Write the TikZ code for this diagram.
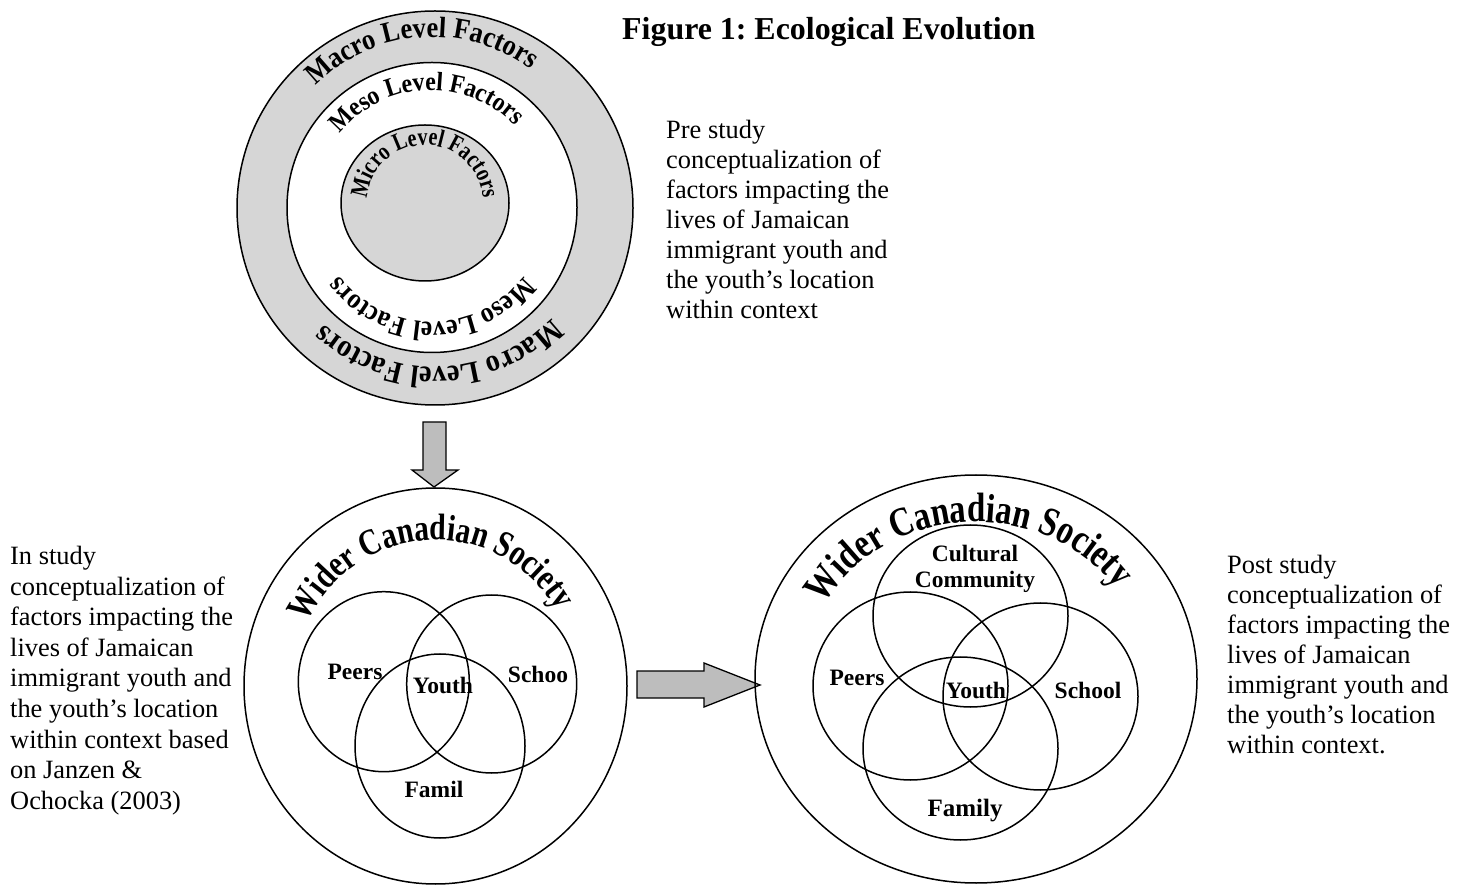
\documentclass[tikz,border=0pt]{standalone}
\usepackage{fontspec}
\setmainfont{Liberation Serif}
\newfontfamily\wamacro{Liberation Serif}[FakeStretch=0.9]
\newfontfamily\wamicro{Liberation Serif}[FakeStretch=0.8]
\newfontfamily\wawider{Liberation Serif}[FakeStretch=0.8]
\usetikzlibrary{decorations.text}
\newcommand\myfs[1]{\fontsize{#1}{#1}\selectfont}
\frenchspacing
\begin{document}
\begin{tikzpicture}[x=1pt,y=1pt,
  ln/.style={line width=1.5pt, draw=black},
  ring/.style={ln, fill=black!16},
  lab/.style={font=\bfseries\fontsize{23.5}{26}\selectfont, inner sep=0pt, anchor=base},
  body/.style={font=\fontsize{26.4}{30}\selectfont, align=left, anchor=north west, inner sep=0pt},
  blockarrow/.style={line width=1.3pt, draw=black, fill=black!26},
  curved/.style={decorate, decoration={text along path, text align=center, text={#1}}}
]
\useasboundingbox (0,0) rectangle (1472,884);

% ---------- top: nested circles ----------
\draw[ring] (435,676) ellipse[x radius=198, y radius=197];
\draw[ln, fill=white] (432,676.5) circle[radius=145];
\draw[ring] (425,681) ellipse[x radius=84, y radius=78];

\path[curved={|\wamacro\bfseries\myfs{29.5}|Macro Level Factors}]
  (433,682) ++(189:165) arc[start angle=189, end angle=0, radius=165];
\path[curved={|\wamacro\bfseries\myfs{31.5}|Macro Level Factors}]
  (435,682) ++(0:165) arc[start angle=0, end angle=-177, radius=165];
\path[curved={|\wamacro\bfseries\myfs{26.5}|Meso Level Factors}]
  (431,678) ++(185:116) arc[start angle=185, end angle=0, radius=116];
\path[curved={|\wamacro\bfseries\myfs{28.5}|Meso Level Factors}]
  (432,678) ++(0:116) arc[start angle=0, end angle=-180, radius=116];
\path[curved={|\wamicro\bfseries\myfs{25}|Micro Level Factors}]
  (425,681) ++(180:58) arc[start angle=180, end angle=0, radius=58];

% ---------- title and texts ----------
\node[anchor=base west, inner sep=0pt, font=\bfseries\myfs{31.9}] (title) at (622,844)
  {Figure 1: Ecological Evolution};
\node[body] (pretext) at (666,764)
  {Pre study\\conceptualization of\\factors impacting the\\lives of Jamaican\\immigrant youth and\\the youth’s location\\within context};
\node[body, font=\fontsize{26.4}{30.6}\selectfont] (intext) at (10,338)
  {In study\\conceptualization of\\factors impacting the\\lives of Jamaican\\immigrant youth and\\the youth’s location\\within context based\\on Janzen \&\\Ochocka (2003)};
\node[body] (posttext) at (1227,329)
  {Post study\\conceptualization of\\factors impacting the\\lives of Jamaican\\immigrant youth and\\the youth’s location\\within context.};

% ---------- arrows ----------
\draw[blockarrow] (423,462) -- (446,462) -- (446,414) -- (458,414) -- (434,397)
  -- (412,414) -- (423,414) -- cycle;
\draw[blockarrow] (637,213) -- (704,213) -- (704,221) -- (760,199) -- (704,177)
  -- (704,186) -- (637,186) -- cycle;

% ---------- left (in study) diagram ----------
\draw[ln] (435.5,198) ellipse[x radius=191.5, y radius=198];
\draw[ln] (383.8,202.3) ellipse[x radius=85.5, y radius=90];
\draw[ln] (491.7,200) ellipse[x radius=85, y radius=89];
\draw[ln] (440,138) ellipse[x radius=85, y radius=92];
\path[curved={|\wawider\bfseries\myfs{37}|Wider Canadian Society}]
  (435.5,198) ++(185:142 and 146) arc[start angle=185, end angle=0, x radius=142, y radius=146];
\node[lab] (lpeers) at (355,205) {Peers};
\node[lab] (lyouth) at (443,191) {Youth};
\node[lab] (lschool) at (538,201) {Schoo};
\node[lab] (lfamily) at (434,87) {Famil};

% ---------- right (post study) diagram ----------
\draw[ln] (976,205) ellipse[x radius=221, y radius=204];
\draw[ln] (970.5,268) ellipse[x radius=97.5, y radius=91];
\draw[ln] (910.5,198) ellipse[x radius=97.5, y radius=94];
\draw[ln] (1040.5,187.5) ellipse[x radius=97.5, y radius=93.5];
\draw[ln] (960.5,135.5) ellipse[x radius=97.5, y radius=91.5];
\path[curved={|\wawider\bfseries\myfs{41}|Wider Canadian Society}]
  (976,205) ++(187:172 and 157) arc[start angle=187, end angle=0, x radius=172, y radius=157];
\node[lab, anchor=north, align=center] (rcc) at (975,339) {Cultural\\Community};
\node[lab] (rpeers) at (857,199) {Peers};
\node[lab] (ryouth) at (976,186) {Youth};
\node[lab] (rschool) at (1088,186) {School};
\node[lab, font=\bfseries\myfs{25}] (rfamily) at (965,68) {Family};
\end{tikzpicture}
\end{document}
